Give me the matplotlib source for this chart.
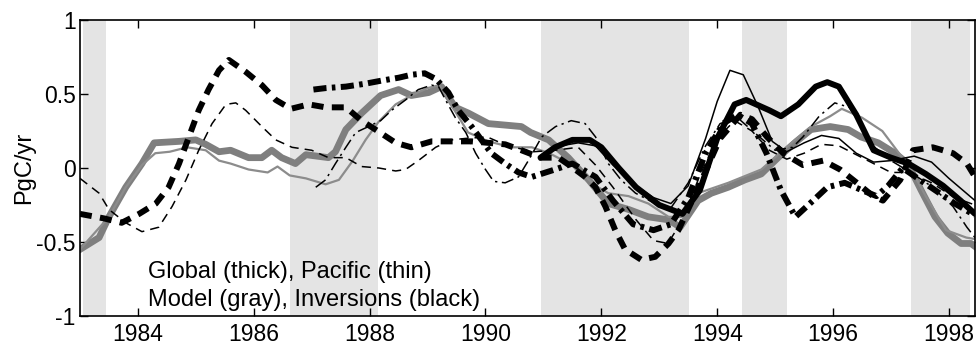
import matplotlib
matplotlib.use("Agg")
import matplotlib.pyplot as plt

plt.rcParams['font.family'] = ['Liberation Sans', 'DejaVu Sans']

# shaded periods (El Nino)
shade_start = [1983.05, 1986.62, 1990.95, 1994.43, 1997.35]
shade_end = [1983.45, 1988.15, 1993.52, 1995.20, 1998.37]

# model, global (thick gray)
model_glob_x = [1983.0, 1983.33, 1983.5, 1983.79, 1984.07, 1984.28, 1984.71, 1985.0, 1985.17,
                1985.4, 1985.6, 1985.91, 1986.14, 1986.31, 1986.48, 1986.72, 1986.9, 1987.29,
                1987.41, 1987.59, 1987.86, 1988.19, 1988.5, 1988.72, 1989.02, 1989.24, 1989.48,
                1989.71, 1990.05, 1990.34, 1990.62, 1990.78, 1991.09, 1991.43, 1991.78, 1992.12,
                1992.47, 1992.81, 1993.16, 1993.36, 1993.67, 1993.9, 1994.19, 1994.48, 1994.76,
                1995.05, 1995.34, 1995.62, 1995.95, 1996.26, 1996.48, 1996.78, 1997.07, 1997.29,
                1997.52, 1997.76, 1997.98, 1998.21, 1998.38, 1998.45]
model_glob_y = [-0.55, -0.47, -0.33, -0.13, 0.03, 0.17, 0.18, 0.19, 0.16,
                0.11, 0.12, 0.07, 0.07, 0.12, 0.07, 0.03, 0.09, 0.07,
                0.11, 0.26, 0.37, 0.49, 0.53, 0.49, 0.51, 0.55, 0.41,
                0.37, 0.30, 0.29, 0.28, 0.24, 0.19, 0.07, -0.08, -0.24,
                -0.28, -0.33, -0.35, -0.40, -0.22, -0.17, -0.13, -0.08, -0.04,
                0.07, 0.17, 0.26, 0.28, 0.26, 0.21, 0.17, 0.10, 0.03,
                -0.15, -0.33, -0.44, -0.51, -0.51, -0.53]

# model, Pacific (thin gray)
model_pac_x = [1983.0, 1983.5, 1983.79, 1984.07, 1984.3, 1984.55, 1984.85, 1985.17, 1985.4,
               1985.6, 1985.91, 1986.24, 1986.41, 1986.62, 1986.9, 1987.24, 1987.47, 1987.71,
               1987.93, 1988.15, 1988.45, 1988.72, 1989.0, 1989.2, 1989.45, 1989.7, 1990.05,
               1990.45, 1990.8, 1991.1, 1991.5, 1991.9, 1992.12, 1992.47, 1992.81, 1993.16,
               1993.4, 1993.67, 1994.19, 1994.76, 1995.34, 1995.62, 1995.95, 1996.15, 1996.5,
               1996.85, 1997.1, 1997.35, 1997.6, 1997.95, 1998.3, 1998.45]
model_pac_y = [-0.55, -0.33, -0.13, 0.02, 0.10, 0.11, 0.14, 0.12, 0.05,
               0.03, -0.01, -0.03, 0.01, -0.05, -0.07, -0.11, -0.08, 0.05,
               0.19, 0.31, 0.43, 0.49, 0.54, 0.56, 0.40, 0.24, 0.18,
               0.14, 0.14, 0.10, 0.02, -0.12, -0.17, -0.19, -0.24, -0.33,
               -0.33, -0.17, -0.10, -0.01, 0.19, 0.28, 0.35, 0.40, 0.34,
               0.25, 0.12, -0.01, -0.19, -0.42, -0.47, -0.48]

# inversion 1, global (thick solid) and Pacific (thin solid)
inv1_glob_x = [1990.95, 1991.2, 1991.5, 1991.8, 1992.0, 1992.3, 1992.6, 1993.0, 1993.4, 1993.7,
               1994.0, 1994.3, 1994.5, 1994.9, 1995.1, 1995.4, 1995.7, 1995.9, 1996.1, 1996.4,
               1996.7, 1997.0, 1997.3, 1997.6, 1997.9, 1998.2, 1998.45]
inv1_glob_y = [0.07, 0.14, 0.19, 0.19, 0.14, 0.0, -0.13, -0.25, -0.31, -0.15,
               0.20, 0.43, 0.46, 0.39, 0.35, 0.43, 0.55, 0.58, 0.55, 0.36,
               0.12, 0.07, 0.03, -0.04, -0.12, -0.22, -0.31]
inv1_pac_x = [1990.95, 1991.3, 1991.6, 1991.9, 1992.2, 1992.6, 1992.9, 1993.2, 1993.5, 1993.8,
              1994.0, 1994.22, 1994.45, 1994.7, 1994.95, 1995.2, 1995.5, 1995.8, 1996.1, 1996.4,
              1996.7, 1997.0, 1997.4, 1997.7, 1998.0, 1998.45]
inv1_pac_y = [0.08, 0.15, 0.17, 0.15, 0.02, -0.12, -0.20, -0.24, -0.12, 0.20,
              0.45, 0.66, 0.63, 0.42, 0.18, 0.11, 0.17, 0.22, 0.20, 0.10,
              0.04, 0.05, 0.08, 0.04, -0.07, -0.22]

# inversion 2, global (thick dashed) and Pacific (thin dashed)
inv2_glob_x = [1983.0, 1983.41, 1983.72, 1984.02, 1984.31, 1984.53, 1984.71, 1984.88, 1985.05,
               1985.22, 1985.4, 1985.57, 1985.86, 1986.14, 1986.38, 1986.64, 1986.95, 1987.24,
               1987.59, 1987.86, 1988.1, 1988.45, 1988.72, 1989.07, 1989.41, 1989.76, 1990.05,
               1990.34, 1990.62, 1990.95, 1991.26, 1991.48, 1991.72, 1991.9, 1992.07, 1992.24,
               1992.41, 1992.69, 1992.93, 1993.16, 1993.33, 1993.71, 1994.05, 1994.4, 1994.6,
               1994.86, 1995.14, 1995.48, 1995.83, 1996.12, 1996.41, 1996.69, 1996.86, 1997.16,
               1997.38, 1997.72, 1998.07, 1998.31, 1998.45]
inv2_glob_y = [-0.31, -0.34, -0.37, -0.31, -0.24, -0.13, 0.03, 0.21, 0.39,
               0.53, 0.66, 0.73, 0.65, 0.56, 0.46, 0.40, 0.43, 0.41,
               0.41, 0.32, 0.26, 0.17, 0.14, 0.18, 0.18, 0.18, 0.17,
               0.16, 0.12, 0.07, 0.07, 0.01, -0.06, -0.13, -0.26, -0.42,
               -0.55, -0.62, -0.60, -0.51, -0.42, -0.10, 0.20, 0.36, 0.33,
               0.21, 0.10, 0.02, 0.05, -0.01, -0.10, -0.19, -0.22, -0.08,
               0.12, 0.14, 0.10, 0.03, -0.06]
inv2_pac_x = [1983.0, 1983.33, 1983.5, 1983.79, 1984.07, 1984.36, 1984.59, 1984.83, 1985.05,
              1985.28, 1985.52, 1985.69, 1985.86, 1986.14, 1986.38, 1986.66, 1987.0, 1987.29,
              1987.59, 1987.86, 1988.16, 1988.45, 1988.62, 1988.84, 1989.14, 1989.41, 1989.66,
              1990.03, 1990.38, 1990.83, 1991.2, 1991.6, 1991.9, 1992.2, 1992.6, 1992.9,
              1993.15, 1993.4, 1993.7, 1994.0, 1994.3, 1994.6, 1994.9, 1995.2, 1995.5,
              1995.8, 1996.1, 1996.4, 1996.7, 1997.0, 1997.3, 1997.7, 1998.1, 1998.45]
inv2_pac_y = [-0.07, -0.17, -0.28, -0.37, -0.43, -0.40, -0.26, -0.08, 0.12,
              0.30, 0.43, 0.44, 0.39, 0.28, 0.19, 0.14, 0.12, 0.07,
              0.07, 0.01, 0.0, -0.02, -0.01, 0.05, 0.14, 0.19, 0.20,
              0.21, 0.15, 0.11, 0.12, 0.14, 0.02, -0.13, -0.35, -0.49,
              -0.51, -0.35, -0.05, 0.20, 0.32, 0.25, 0.12, 0.06, 0.10,
              0.16, 0.15, 0.09, 0.03, -0.03, -0.03, -0.10, -0.20, -0.25]

# inversion 3, global (thick dash-dot) and Pacific (thin dash-dot)
inv3_glob_x = [1987.03, 1987.24, 1987.59, 1987.93, 1988.2, 1988.5, 1988.72, 1988.95, 1989.15,
               1989.36, 1989.53, 1989.76, 1989.93, 1990.1, 1990.34, 1990.57, 1990.8, 1991.2,
               1991.5, 1991.9, 1992.2, 1992.55, 1992.9, 1993.2, 1993.5, 1993.8, 1994.1,
               1994.35, 1994.6, 1994.85, 1995.1, 1995.35, 1995.6, 1995.9, 1996.2, 1996.5,
               1996.75, 1996.95, 1997.2, 1997.5, 1997.8, 1998.1, 1998.45]
inv3_glob_y = [0.53, 0.54, 0.55, 0.57, 0.59, 0.61, 0.63, 0.64, 0.60,
               0.51, 0.39, 0.28, 0.19, 0.10, 0.03, -0.03, -0.06, -0.01,
               0.03, -0.06, -0.22, -0.38, -0.42, -0.38, -0.20, 0.10, 0.30,
               0.36, 0.30, 0.10, -0.15, -0.33, -0.24, -0.13, -0.10, -0.15,
               -0.19, -0.12, 0.0, -0.08, -0.16, -0.24, -0.32]
inv3_pac_x = [1987.07, 1987.24, 1987.41, 1987.59, 1987.76, 1987.98, 1988.19, 1988.38, 1988.62,
              1988.84, 1989.07, 1989.19, 1989.31, 1989.48, 1989.66, 1989.83, 1990.0, 1990.14,
              1990.34, 1990.57, 1990.74, 1990.97, 1991.21, 1991.48, 1991.72, 1991.9, 1992.12,
              1992.34, 1992.59, 1992.93, 1993.2, 1993.5, 1993.8, 1994.05, 1994.35, 1994.7,
              1995.0, 1995.3, 1995.48, 1995.76, 1996.03, 1996.28, 1996.5, 1996.72, 1997.0,
              1997.38, 1997.72, 1998.07, 1998.31, 1998.45]
inv3_pac_y = [-0.13, -0.08, 0.03, 0.14, 0.24, 0.28, 0.32, 0.39, 0.46,
              0.53, 0.56, 0.55, 0.46, 0.34, 0.24, 0.10, -0.01, -0.09,
              -0.10, -0.06, 0.05, 0.21, 0.28, 0.32, 0.30, 0.21, 0.03,
              -0.08, -0.17, -0.24, -0.27, -0.10, 0.15, 0.30, 0.34, 0.22,
              0.12, 0.14, 0.21, 0.35, 0.44, 0.41, 0.28, 0.14, 0.05,
              -0.04, -0.13, -0.26, -0.40, -0.47]

year_ticks = [1984, 1986, 1988, 1990, 1992, 1994, 1996, 1998]
flux_ticks = [-1, -0.5, 0, 0.5, 1]
flux_labels = ['-1', '-0.5', '0', '0.5', '1']

fig = plt.figure(figsize=(9.8, 3.45), dpi=100)
ax = fig.add_axes([0.0816, 0.084, 0.9133, 0.858])

for s, e in zip(shade_start, shade_end):
    ax.axvspan(s, e, color='#e4e4e4', lw=0, zorder=0)

thick = 4.3
thin = 1.1
ax.plot(model_glob_x, model_glob_y, color='#7f7f7f', lw=thick + 0.6, zorder=2,
        solid_joinstyle='round')
ax.plot(model_pac_x, model_pac_y, color='#8c8c8c', lw=thin + 0.5, zorder=2)

ax.plot(inv1_glob_x, inv1_glob_y, color='k', lw=thick, zorder=4, solid_capstyle='round')
ax.plot(inv1_pac_x, inv1_pac_y, color='k', lw=thin, zorder=5)
ax.plot(inv2_glob_x, inv2_glob_y, color='k', lw=thick, ls=(0, (2.0, 1.4)), zorder=4)
ax.plot(inv2_pac_x, inv2_pac_y, color='k', lw=thin, ls=(0, (6, 4)), zorder=5)
ax.plot(inv3_glob_x, inv3_glob_y, color='k', lw=thick, ls=(0, (2.2, 0.9, 0.6, 0.9)), zorder=4)
ax.plot(inv3_pac_x, inv3_pac_y, color='k', lw=thin, ls=(0, (8, 3, 1.5, 3)), zorder=5)

ax.text(1984.17, -0.70, 'Global (thick), Pacific (thin)', fontsize=17, va='center', ha='left')
ax.text(1984.17, -0.89, 'Model (gray), Inversions (black)', fontsize=17, va='center', ha='left')

ax.set_xlim(1983.0, 1998.45)
ax.set_ylim(-1, 1)
ax.set_xticks(year_ticks)
ax.set_xticklabels([str(y) for y in year_ticks])
ax.set_yticks(flux_ticks)
ax.set_yticklabels(flux_labels)
ax.tick_params(direction='in', length=6, width=1, top=True, right=True, labelsize=16.5)
ax.tick_params(axis='y', pad=3)
ax.tick_params(axis='x', pad=5)
for sp in ax.spines.values():
    sp.set_linewidth(1.2)
ax.set_ylabel('PgC/yr', fontsize=17, labelpad=1)

fig.savefig('out.png', dpi=100)
